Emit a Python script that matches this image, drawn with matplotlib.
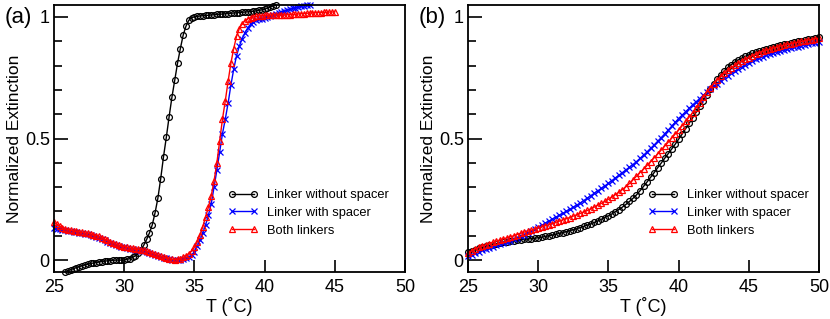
import numpy as np
import matplotlib
matplotlib.use("Agg")
import matplotlib.pyplot as plt
from matplotlib.ticker import MultipleLocator

plt.rcParams['font.family'] = ['Liberation Sans', 'DejaVu Sans']

# ---- data ----
labels = ["Linker without spacer", "Linker with spacer", "Both linkers"]

# panel (a): temperature step 0.2 C
a_black_t0 = 25.8
a_black = [-0.048, -0.044, -0.039, -0.035, -0.031, -0.027, -0.023, -0.020, -0.017, -0.014,
           -0.012, -0.010, -0.008, -0.006, -0.004, -0.003, -0.002, -0.001, 0.000, 0.000,
           0.000, 0.001, 0.003, 0.006, 0.011, 0.018, 0.028, 0.042, 0.062, 0.085,
           0.112, 0.145, 0.195, 0.255, 0.335, 0.425, 0.505, 0.590, 0.670, 0.740,
           0.810, 0.870, 0.925, 0.962, 0.986, 0.997, 1.000, 1.002, 1.004, 1.005,
           1.006, 1.007, 1.008, 1.009, 1.010, 1.011, 1.012, 1.013, 1.014, 1.015,
           1.016, 1.017, 1.018, 1.019, 1.020, 1.021, 1.022, 1.023, 1.025, 1.027,
           1.029, 1.032, 1.036, 1.041, 1.045, 1.048]

a_blue_t0 = 25.0
a_blue = [0.130, 0.128, 0.126, 0.124, 0.122, 0.120, 0.118, 0.116, 0.114, 0.112,
          0.110, 0.108, 0.106, 0.103, 0.099, 0.095, 0.091, 0.086, 0.081, 0.076,
          0.071, 0.066, 0.062, 0.058, 0.055, 0.052, 0.049, 0.047, 0.045, 0.043,
          0.041, 0.039, 0.037, 0.034, 0.030, 0.026, 0.022, 0.018, 0.014, 0.010,
          0.007, 0.004, 0.002, 0.001, 0.001, 0.002, 0.004, 0.007, 0.012, 0.020,
          0.035, 0.058, 0.083, 0.112, 0.145, 0.185, 0.232, 0.300, 0.370, 0.445,
          0.520, 0.580, 0.645, 0.720, 0.785, 0.840, 0.880, 0.910, 0.935, 0.955,
          0.970, 0.980, 0.986, 0.990, 0.993, 0.996, 0.999, 1.002, 1.006, 1.011,
          1.016, 1.020, 1.024, 1.028, 1.032, 1.035, 1.038, 1.041, 1.044, 1.046,
          1.048, 1.050]

a_red_t0 = 25.0
a_red = [0.155, 0.148, 0.140, 0.133, 0.128, 0.125, 0.122, 0.120, 0.118, 0.116,
         0.114, 0.112, 0.110, 0.108, 0.105, 0.101, 0.097, 0.092, 0.087, 0.081,
         0.076, 0.071, 0.066, 0.062, 0.058, 0.055, 0.052, 0.050, 0.048, 0.046,
         0.044, 0.042, 0.040, 0.037, 0.033, 0.029, 0.025, 0.020, 0.016, 0.012,
         0.008, 0.005, 0.003, 0.002, 0.003, 0.006, 0.011, 0.018, 0.027, 0.038,
         0.053, 0.075, 0.103, 0.138, 0.178, 0.218, 0.265, 0.325, 0.400, 0.490,
         0.580, 0.655, 0.735, 0.810, 0.870, 0.920, 0.952, 0.972, 0.984, 0.992,
         0.997, 1.000, 1.002, 1.004, 1.005, 1.006, 1.007, 1.007, 1.008, 1.008,
         1.008, 1.008, 1.008, 1.009, 1.009, 1.010, 1.011, 1.012, 1.013, 1.014,
         1.015, 1.016, 1.017, 1.017, 1.018, 1.018, 1.019, 1.019, 1.020, 1.020,
         1.021]

# panel (b): temperature 25..50 C, step 0.25 C
b_black = [0.034, 0.039, 0.043, 0.048, 0.052, 0.056, 0.060, 0.064, 0.067, 0.070,
           0.073, 0.076, 0.078, 0.080, 0.082, 0.084, 0.085, 0.087, 0.088, 0.090,
           0.092, 0.094, 0.097, 0.100, 0.103, 0.106, 0.110, 0.113, 0.117, 0.121,
           0.125, 0.129, 0.134, 0.139, 0.144, 0.149, 0.155, 0.161, 0.168, 0.175,
           0.182, 0.190, 0.199, 0.208, 0.218, 0.229, 0.241, 0.254, 0.268, 0.285,
           0.303, 0.321, 0.340, 0.359, 0.379, 0.398, 0.418, 0.437, 0.456, 0.476,
           0.497, 0.518, 0.540, 0.562, 0.585, 0.608, 0.632, 0.656, 0.680, 0.702,
           0.724, 0.744, 0.762, 0.778, 0.792, 0.804, 0.814, 0.823, 0.831, 0.838,
           0.844, 0.850, 0.855, 0.860, 0.865, 0.869, 0.873, 0.877, 0.881, 0.884,
           0.887, 0.890, 0.893, 0.896, 0.899, 0.902, 0.905, 0.908, 0.911, 0.914,
           0.917]

b_blue = [0.016, 0.022, 0.028, 0.034, 0.040, 0.045, 0.050, 0.055, 0.060, 0.065,
          0.070, 0.075, 0.080, 0.086, 0.092, 0.098, 0.105, 0.112, 0.120, 0.127,
          0.135, 0.143, 0.151, 0.160, 0.168, 0.176, 0.184, 0.192, 0.200, 0.209,
          0.217, 0.226, 0.235, 0.245, 0.255, 0.265, 0.275, 0.285, 0.295, 0.305,
          0.316, 0.327, 0.338, 0.349, 0.360, 0.371, 0.382, 0.393, 0.405, 0.418,
          0.431, 0.445, 0.459, 0.473, 0.488, 0.503, 0.518, 0.534, 0.550, 0.566,
          0.582, 0.596, 0.610, 0.624, 0.638, 0.651, 0.664, 0.677, 0.690, 0.703,
          0.715, 0.726, 0.737, 0.748, 0.758, 0.768, 0.777, 0.786, 0.795, 0.803,
          0.811, 0.818, 0.825, 0.831, 0.837, 0.842, 0.847, 0.852, 0.856, 0.860,
          0.864, 0.868, 0.872, 0.875, 0.878, 0.882, 0.885, 0.888, 0.891, 0.894,
          0.897]

b_red = [0.030, 0.038, 0.045, 0.052, 0.058, 0.063, 0.068, 0.073, 0.078, 0.082,
         0.087, 0.091, 0.095, 0.100, 0.105, 0.110, 0.115, 0.119, 0.123, 0.128,
         0.132, 0.136, 0.141, 0.145, 0.150, 0.155, 0.160, 0.165, 0.170, 0.175,
         0.181, 0.186, 0.192, 0.198, 0.204, 0.211, 0.218, 0.226, 0.233, 0.241,
         0.250, 0.259, 0.269, 0.279, 0.290, 0.302, 0.315, 0.330, 0.345, 0.360,
         0.374, 0.389, 0.405, 0.420, 0.436, 0.452, 0.468, 0.484, 0.501, 0.518,
         0.535, 0.552, 0.570, 0.588, 0.606, 0.627, 0.648, 0.670, 0.690, 0.709,
         0.726, 0.741, 0.755, 0.768, 0.780, 0.791, 0.801, 0.810, 0.818, 0.826,
         0.833, 0.840, 0.846, 0.852, 0.858, 0.863, 0.867, 0.872, 0.876, 0.880,
         0.883, 0.887, 0.890, 0.893, 0.896, 0.899, 0.902, 0.905, 0.907, 0.910,
         0.912]

a_step = 0.2
b_t0, b_step = 25.0, 0.25

colors = ["black", "blue", "red"]
markers = ["o", "x", "^"]
msizes = [4.2, 4.0, 5.0]


def temps(t0, step, vals):
    return t0 + step * np.arange(len(vals))


panel_a = [(temps(a_black_t0, a_step, a_black), a_black),
           (temps(a_blue_t0, a_step, a_blue), a_blue),
           (temps(a_red_t0, a_step, a_red), a_red)]
panel_b = [(temps(b_t0, b_step, b_black), b_black),
           (temps(b_t0, b_step, b_blue), b_blue),
           (temps(b_t0, b_step, b_red), b_red)]

fig = plt.figure(figsize=(8.3, 3.19), dpi=100)
ax_a = fig.add_axes([54 / 830, 1 - 272 / 319, 351 / 830, 267 / 319])
ax_b = fig.add_axes([468 / 830, 1 - 272 / 319, 351 / 830, 267 / 319])

for ax, series, tag, leg_x in [(ax_a, panel_a, "(a)", 0.496), (ax_b, panel_b, "(b)", 0.513)]:
    for (t, v), c, m, ms, lab in zip(series, colors, markers, msizes, labels):
        ax.plot(t, v, color=c, marker=m, markersize=ms, markerfacecolor='none',
                markeredgecolor=c, markeredgewidth=0.9, linewidth=1.0, label=lab,
                clip_on=False)
    ax.set_xlim(25, 50)
    ax.set_ylim(-0.049, 1.049)
    ax.xaxis.set_major_locator(MultipleLocator(5))
    ax.set_yticks([0, 0.5, 1])
    ax.set_yticklabels(["0", "0.5", "1"])
    ax.yaxis.set_minor_locator(MultipleLocator(0.1))
    ax.tick_params(axis='both', which='both', direction='in', top=False, right=False,
                   labelsize=13, width=1.2)
    ax.tick_params(axis='x', which='major', length=8.5, pad=5)
    ax.tick_params(axis='y', which='major', length=10, pad=3)
    ax.tick_params(axis='y', which='minor', length=5.5)
    for sp in ax.spines.values():
        sp.set_linewidth(1.3)
    ax.set_xlabel("T (˚C)", fontsize=13, labelpad=1)
    ax.set_ylabel("Normalized Extinction", fontsize=12.5, labelpad=2)
    ax.text(-0.14, 0.955, tag, transform=ax.transAxes, fontsize=16, ha='left', va='center')
    ax.legend(loc='center left', bbox_to_anchor=(leg_x, 0.221), frameon=False,
              fontsize=9.3, numpoints=2, handlelength=2.3, handletextpad=0.75,
              labelspacing=0.45, borderpad=0, borderaxespad=0)

fig.savefig("out.png", dpi=100)
